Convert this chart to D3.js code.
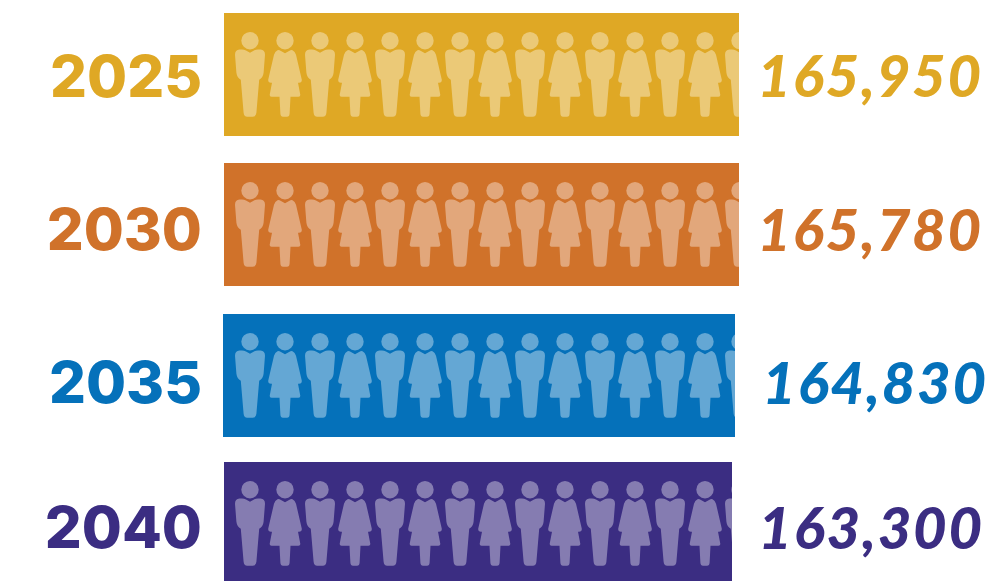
<!DOCTYPE html>
<html><head><meta charset="utf-8">
<script src="https://cdnjs.cloudflare.com/ajax/libs/d3/7.8.5/d3.min.js"></script>
<style>html,body{margin:0;padding:0;background:#fff;overflow:hidden}svg{display:block}</style>
</head><body><svg id="c" width="998" height="581"></svg>
<script>
const years = ["2025","2030","2035","2040"];
const totals = [165950,165780,164830,163300];
const colors = ["#DFA825","#D0722A","#0571BA","#3B2D82"];
const genders = ["m","f","m","f","m","f","m","f","m","f","m","f","m","f","m"];

const rowTop = d3.scaleOrdinal().domain(years).range([13,163,314,462]);
const rowLeft = d3.scaleOrdinal().domain(years).range([224,224,223,224]);
const width = d3.scaleLinear().domain([163300,165950]).rangeRound([508,515]);
const valueRight = d3.scaleOrdinal().domain(years).range([983,983,988,984]);
const yearBase = d3.scaleOrdinal().domain(years).range([97,249.5,402.5,548]);
const valueBase = d3.scaleOrdinal().domain(years).range([97,250.5,403.5,548.5]);
const iconX = d3.scalePoint().domain(d3.range(genders.length)).range([250,740]);
const rowH = 123;

const man = "M0,12 L-4,9.8 Q-6,8.7 -8,8.7 L-10.5,8.7 Q-15,9 -15,14 L-13.6,32 Q-13,37 -9.2,39 L-6.4,72 Q-6,76 -2.8,76 L2.8,76 Q6,76 6.4,72 L9.2,39 Q13,37 13.6,32 L15,14 Q15,9 10.5,8.7 L8,8.7 Q6,8.7 4,9.8 Z";
const woman = "M0,12.5 L-4.5,10 Q-6,9 -7.5,9.5 Q-10,10.5 -11,14 L-16.8,39 Q-17,42 -14,42 L-13,42 L-15.3,54 Q-15.5,56 -13.5,56 L-5.5,56 L-4.6,73 Q-4.4,76 -2,76 L2,76 Q4.4,76 4.6,73 L5.5,56 L13.5,56 Q15.5,56 15.3,54 L13,42 L14,42 Q17,42 16.8,39 L11,14 Q10,10.5 7.5,9.5 Q6,9 4.5,10 Z";

const svg = d3.select("#c");
const rows = years.map((y,i)=>({year:y,total:totals[i],color:colors[i]}));

svg.append("defs").selectAll("clipPath").data(rows).join("clipPath")
  .attr("id",d=>"clip"+d.year)
  .append("rect").attr("x",d=>rowLeft(d.year)).attr("y",0)
  .attr("width",d=>width(d.total)).attr("height",rowH);

const g = svg.selectAll("g.row").data(rows).join("g").attr("class","row")
  .attr("transform",d=>`translate(0,${rowTop(d.year)})`);

g.append("rect").attr("x",d=>rowLeft(d.year)).attr("width",d=>width(d.total)).attr("height",rowH).attr("fill",d=>d.color);

const icons = g.append("g").attr("clip-path",d=>`url(#clip${d.year})`)
  .selectAll("g").data(genders.map((s,i)=>({s,i}))).join("g")
  .attr("transform",d=>`translate(${iconX(d.i)},27.7)`)
  .attr("fill","#fff").attr("fill-opacity",0.38);
icons.append("circle").attr("r",8.7);
icons.append("path").attr("d",d=>d.s==="m"?man:woman);

svg.selectAll("text.year").data(rows).join("text").attr("class","year")
  .attr("x",202).attr("y",d=>yearBase(d.year))
  .attr("text-anchor","end").attr("fill",d=>d.color)
  .attr("font-family","Inter").attr("font-weight",800).attr("font-size",58)
  .text(d=>d.year);

svg.selectAll("text.total").data(rows).join("text").attr("class","total")
  .attr("x",d=>valueRight(d.year)).attr("y",d=>valueBase(d.year))
  .attr("text-anchor","end").attr("fill",d=>d.color)
  .attr("font-family","Lato").attr("font-weight",900).attr("font-style","italic")
  .attr("font-size",58).attr("letter-spacing",1.8)
  .text(d=>d3.format(",")(d.total));
</script></body></html>
